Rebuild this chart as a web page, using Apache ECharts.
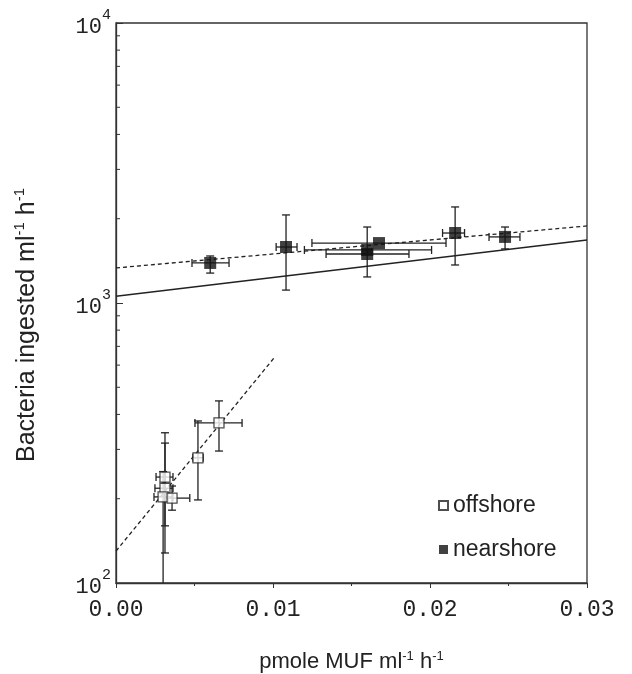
<!DOCTYPE html>
<html>
<head>
<meta charset="utf-8">
<script src="https://cdn.jsdelivr.net/npm/echarts@6/dist/echarts.min.js"></script>
<style>
  html, body { margin: 0; padding: 0; background: #fff; }
  #chart { width: 632px; height: 674px; }
</style>
</head>
<body>
<div id="chart"></div>
<script>
// offshore stations (open squares)
const offX    = [0.00656, 0.00522, 0.00312, 0.00312, 0.00300, 0.00357];
const offY    = [373, 280, 239, 218, 203, 201];
const offXLo  = [0.00503, 0.00490, 0.00255, 0.00248, 0.00242, 0.00310];
const offXHi  = [0.00803, 0.00555, 0.00363, 0.00363, 0.00363, 0.00470];
const offYLo  = [296, 198, 128, 160, 80, 182];
const offYHi  = [447, 379, 344, 316, 250, 222];

// nearshore stations (filled squares)
const nearX   = [0.00600, 0.01083, 0.01600, 0.01600, 0.01675, 0.02160, 0.02478];
const nearY   = [1390, 1585, 1547, 1496, 1637, 1778, 1722];
const nearXLo = [0.00484, 0.01020, 0.01200, 0.01338, 0.01248, 0.02080, 0.02376];
const nearXHi = [0.00720, 0.01153, 0.02010, 0.01866, 0.02102, 0.02220, 0.02573];
const nearYLo = [1279, 1112, null, 1239, null, 1367, 1560];
const nearYHi = [1472, 2063, null, 1868, null, 2203, 1868];

// fitted lines, [x, y] end points
const offFit   = [[0, 130], [0.0101, 640]];
const nearFit  = [[0, 1334], [0.03, 1884]];
const allFit   = [[0, 1057], [0.03, 1679]];

const yMinorTicks = [200, 300, 400, 500, 600, 700, 800, 900, 2000, 3000, 4000, 5000, 6000, 7000, 8000, 9000];

const INK = "#222";
const MONO = "'Liberation Mono', 'DejaVu Sans Mono', monospace";
const SANS = "'Liberation Sans', Arial, sans-serif";

const chart = echarts.init(document.getElementById("chart"), null, { renderer: "canvas" });

function errorBars(xs, ys, xlo, xhi, ylo, yhi) {
  return {
    type: "custom",
    clip: true,
    z: 3,
    silent: true,
    data: xs.map((x, i) => [x, ys[i]]),
    renderItem: (params, api) => {
      const i = params.dataIndex;
      const c = api.coord([api.value(0), api.value(1)]);
      const cap = 4;
      const style = { stroke: INK, lineWidth: 1.3 };
      const kids = [];
      const seg = (x1, y1, x2, y2) => kids.push({ type: "line", shape: { x1, y1, x2, y2 }, style });
      if (xlo[i] != null) {
        const a = api.coord([xlo[i], ys[i]])[0];
        const b = api.coord([xhi[i], ys[i]])[0];
        seg(a, c[1], b, c[1]);
        seg(a, c[1] - cap, a, c[1] + cap);
        seg(b, c[1] - cap, b, c[1] + cap);
      }
      if (ylo[i] != null) {
        const a = api.coord([xs[i], ylo[i]])[1];
        const b = api.coord([xs[i], yhi[i]])[1];
        seg(c[0], a, c[0], b);
        seg(c[0] - cap, a, c[0] + cap, a);
        seg(c[0] - cap, b, c[0] + cap, b);
      }
      return { type: "group", children: kids };
    }
  };
}

function fitLine(data, dashed) {
  return {
    type: "line",
    data,
    z: 2,
    silent: true,
    symbol: "none",
    lineStyle: { color: INK, width: 1.3, type: dashed ? [4, 3] : "solid" }
  };
}

const supX = { fontSize: 13, fontFamily: SANS, color: INK, verticalAlign: "top", lineHeight: 24 };
const supY = { fontSize: 15, fontFamily: SANS, color: INK, verticalAlign: "top", lineHeight: 30 };

chart.setOption({
  animation: false,
  backgroundColor: "#fff",
  grid: {
    left: 116, right: 45, top: 23, bottom: 91,
    outerBoundsMode: "none",
    show: true, borderColor: "#333", borderWidth: 1.3
  },
  legend: {
    orient: "vertical",
    left: 433,
    top: 489,
    itemWidth: 9,
    itemHeight: 9,
    itemGap: 21,
    data: ["offshore", "nearshore"],
    textStyle: { fontSize: 23, fontFamily: SANS, color: INK }
  },
  xAxis: {
    type: "value",
    min: 0,
    max: 0.03,
    interval: 0.01,
    name: "pmole MUF ml{s|-1} h{s|-1}",
    nameLocation: "middle",
    nameGap: 67,
    nameTextStyle: { fontSize: 22, fontFamily: SANS, color: INK, lineHeight: 24, rich: { s: supX } },
    axisLine: { lineStyle: { color: "#333", width: 1.3 } },
    axisTick: { length: 5, lineStyle: { color: "#333" } },
    minorTick: { show: true, splitNumber: 2, length: 3, lineStyle: { color: "#333" } },
    splitLine: { show: false },
    axisLabel: { margin: 15, fontSize: 23, fontFamily: MONO, color: INK, formatter: (v) => v.toFixed(2) }
  },
  yAxis: {
    type: "log",
    logBase: 10,
    min: 100,
    max: 10000,
    name: "Bacteria ingested ml{s|-1} h{s|-1}",
    nameLocation: "middle",
    nameGap: 74,
    nameTextStyle: { fontSize: 25, fontFamily: SANS, color: INK, lineHeight: 30, padding: [0, 44, 0, 0], rich: { s: supY } },
    axisLine: { lineStyle: { color: "#333", width: 1.3 } },
    axisTick: { inside: true, length: 7, lineStyle: { color: "#333" } },
    splitLine: { show: false },
    axisLabel: {
      margin: 5,
      formatter: (v) => `{b|10}{s|${Math.round(Math.log10(v))}}`,
      rich: {
        b: { fontSize: 22, fontFamily: MONO, color: INK, verticalAlign: "bottom", lineHeight: 30 },
        s: { fontSize: 15, fontFamily: MONO, color: INK, verticalAlign: "top", lineHeight: 30 }
      }
    }
  },
  series: [
    {
      type: "custom",
      silent: true,
      z: 3,
      data: yMinorTicks.map((v) => [0, v]),
      renderItem: (params, api) => {
        const p = api.coord([0, api.value(1)]);
        return { type: "line", shape: { x1: p[0], y1: p[1], x2: p[0] + 4, y2: p[1] }, style: { stroke: "#333", lineWidth: 1 } };
      }
    },
    fitLine(allFit, false),
    fitLine(nearFit, true),
    fitLine(offFit, true),
    errorBars(offX, offY, offXLo, offXHi, offYLo, offYHi),
    errorBars(nearX, nearY, nearXLo, nearXHi, nearYLo, nearYHi),
    {
      name: "offshore",
      type: "scatter",
      z: 4,
      symbol: "rect",
      symbolSize: 10,
      data: offX.map((x, i) => [x, offY[i]]),
      itemStyle: { color: "#fff", borderColor: INK, borderWidth: 1.3 }
    },
    {
      name: "nearshore",
      type: "scatter",
      z: 4,
      symbol: "rect",
      symbolSize: 12,
      data: nearX.map((x, i) => [x, nearY[i]]),
      itemStyle: { color: "#111" }
    }
  ]
});
</script>
</body>
</html>
